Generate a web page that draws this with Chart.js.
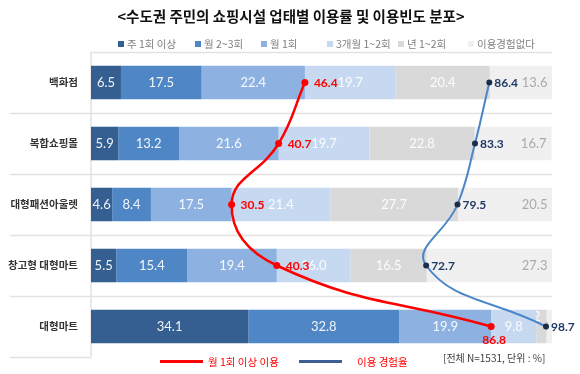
<!DOCTYPE html>
<html>
<head>
<meta charset="utf-8">
<script src="https://cdn.jsdelivr.net/npm/chart.js@4"></script>
<style>
  body { margin: 0; background: #fff; }
  #wrap { position: relative; width: 580px; height: 374px; font-family: 'Noto Sans CJK KR', sans-serif; }
  #chart { position: absolute; left: 0; top: 0; }
  .title { position: absolute; top: 6px; left: 0; width: 582px; text-align: center; font-weight: bold; font-size: 14.5px; line-height: 20px; color: #111; }
  .lg { position: absolute; top: 36px; font-size: 10.5px; line-height: 15px; color: #7f7f7f; white-space: nowrap; }
  .lg i { display: inline-block; width: 6px; height: 6px; margin-right: 3px; vertical-align: 1px; }
  .bl { position: absolute; font-size: 10.5px; line-height: 15px; color: #ff0000; white-space: nowrap; }
  .line { position: absolute; height: 3px; }
  .note { position: absolute; left: 443px; top: 351px; font-size: 10px; line-height: 14px; color: #404040; white-space: nowrap; }
</style>
</head>
<body>
<div id="wrap">
  <canvas id="chart" width="580" height="374"></canvas>
  <div class="title">&lt;수도권 주민의 쇼핑시설 업태별 이용률 및 이용빈도 분포&gt;</div>
  <div id="legend"></div>
  <div class="line" style="left:160px;top:360px;width:43px;background:#ff0000"></div>
  <div class="bl" style="left:208px;top:354px">월 1회 이상 이용</div>
  <div class="line" style="left:299px;top:360px;width:43px;background:#3d5f94"></div>
  <div class="bl" style="left:357px;top:354px">이용 경험율</div>
  <div class="note">[전체 N=1531, 단위 : %]</div>
</div>
<script>
const categories = ['백화점', '복합쇼핑몰', '대형패션아울렛', '창고형 대형마트', '대형마트'];
const seriesNames = ['주 1회 이상', '월 2~3회', '월 1회', '3개월 1~2회', '년 1~2회', '이용경험없다'];

// 이용빈도 분포 (%)
const weekly = [6.5, 5.9, 4.6, 5.5, 34.1];
const twoThreeMonth = [17.5, 13.2, 8.4, 15.4, 32.8];
const monthly = [22.4, 21.6, 17.5, 19.4, 19.9];
const quarterly = [19.7, 19.7, 21.4, 16.0, 9.8];
const yearly = [20.4, 22.8, 27.7, 16.5, 2.2];
const never = [13.6, 16.7, 20.5, 27.3, 1.3];

// 선 데이터
const monthlyUse = [46.4, 40.7, 30.5, 40.3, 86.8];
const experience = [86.4, 83.3, 79.5, 72.7, 98.7];

const barColors = ['#355f91', '#4f86c6', '#8db2e2', '#c6d9f1', '#d9d9d9', '#f0f0f0'];
const legendLeft = [118, 195, 261, 327, 398, 468];

// 상단 범례
const legendDiv = document.getElementById('legend');
seriesNames.forEach((name, i) => {
    const d = document.createElement('div');
    d.className = 'lg';
    d.style.left = legendLeft[i] + 'px';
    d.innerHTML = `<i style="background:${barColors[i]}"></i>${name}`;
    legendDiv.appendChild(d);
});

const barSeries = [weekly, twoThreeMonth, monthly, quarterly, yearly, never];
const datasets = barSeries.map((data, i) => ({
    type: 'bar',
    label: seriesNames[i],
    data: data,
    backgroundColor: barColors[i],
    xAxisID: 'x',
    barPercentage: 0.55,
    categoryPercentage: 1,
    order: 2
}));

datasets.push({
    type: 'line',
    label: '월 1회 이상 이용',
    data: monthlyUse,
    xAxisID: 'x2',
    borderColor: '#ff0000',
    borderWidth: 2.5,
    pointRadius: 3.5,
    pointBackgroundColor: '#ff0000',
    pointBorderWidth: 0,
    tension: 0.45,
    fill: false,
    order: 1
});
datasets.push({
    type: 'line',
    label: '이용 경험율',
    data: experience,
    xAxisID: 'x2',
    borderColor: '#4a86c8',
    borderWidth: 2,
    pointRadius: 3,
    pointBackgroundColor: '#1b2c4c',
    pointBorderWidth: 0,
    tension: 0.45,
    fill: false,
    order: 1
});

// 구분선
const separators = {
    id: 'separators',
    beforeDatasetsDraw(chart) {
        const { ctx, chartArea, scales } = chart;
        const y = scales.y;
        const half = (y.getPixelForValue(1) - y.getPixelForValue(0)) / 2;
        ctx.save();
        ctx.strokeStyle = '#e2e2e2';
        ctx.lineWidth = 1.5;
        for (let i = 0; i <= categories.length; i++) {
            const py = Math.round(y.getPixelForValue(i) - half) + 0.5;
            const x0 = i === 0 ? chartArea.left : 10;
            const x1 = i === categories.length ? chartArea.left : chartArea.right;
            ctx.beginPath();
            ctx.moveTo(x0, py);
            ctx.lineTo(x1, py);
            ctx.stroke();
        }
        ctx.beginPath();
        ctx.moveTo(chartArea.left, chartArea.top);
        ctx.lineTo(chartArea.left, chartArea.bottom);
        ctx.stroke();
        ctx.restore();
    }
};

// 값 레이블
const valueLabels = {
    id: 'valueLabels',
    afterDatasetDraw(chart, args) {
        const ds = chart.data.datasets[args.index];
        if (ds.type !== 'bar') return;
        const { ctx } = chart;
        const isLast = args.index === barSeries.length - 1;
        ctx.save();
        ctx.font = '13px Lato';
        ctx.textBaseline = 'middle';
        ctx.fillStyle = isLast ? '#aaaaaa' : 'rgba(255,255,255,0.92)';
        args.meta.data.forEach((bar, j) => {
            const v = ds.data[j];
            let cx = (bar.x + bar.base) / 2;
            let cy = bar.y;
            ctx.textAlign = 'center';
            if (v < 3) {
                cx -= 10;
                if (!isLast) cy -= 10;
            } else if (isLast) {
                ctx.textAlign = 'right';
                cx = bar.x - 5;
            }
            ctx.fillText(v.toFixed(1), cx, cy);
        });
        ctx.restore();
    },
    afterDatasetsDraw(chart) {
        const { ctx } = chart;
        ctx.save();
        ctx.font = 'bold 12px Lato';
        ctx.textBaseline = 'middle';
        const red = chart.getDatasetMeta(barSeries.length);
        red.data.forEach((pt, j) => {
            ctx.fillStyle = '#ff0000';
            if (j === monthlyUse.length - 1) {
                ctx.textAlign = 'center';
                ctx.fillText(monthlyUse[j].toFixed(1), pt.x + 3, pt.y + 14);
            } else {
                ctx.textAlign = 'left';
                ctx.fillText(monthlyUse[j].toFixed(1), pt.x + 9, pt.y + 1);
            }
        });
        const blue = chart.getDatasetMeta(barSeries.length + 1);
        blue.data.forEach((pt, j) => {
            ctx.fillStyle = '#1f3a66';
            ctx.textAlign = 'left';
            ctx.fillText(experience[j].toFixed(1), pt.x + 5, pt.y + 1);
        });
        ctx.restore();
    }
};

new Chart(document.getElementById('chart'), {
    data: { labels: categories, datasets: datasets },
    options: {
        indexAxis: 'y',
        responsive: false,
        animation: false,
        layout: { padding: { left: 0, right: 28, top: 52, bottom: 17 } },
        plugins: {
            legend: { display: false },
            title: { display: false },
            tooltip: { enabled: false }
        },
        scales: {
            x: { stacked: true, min: 0, max: 100, display: false },
            x2: { type: 'linear', position: 'bottom', min: 0, max: 100, display: false },
            y: {
                stacked: true,
                grid: { display: false },
                border: { display: false },
                ticks: {
                    color: '#333',
                    padding: 5,
                    font: { family: 'Noto Sans CJK KR', size: 10.5, weight: 'bold' }
                },
                afterFit(scale) { scale.width = 91; }
            }
        }
    },
    plugins: [separators, valueLabels]
});
</script>
</body>
</html>
